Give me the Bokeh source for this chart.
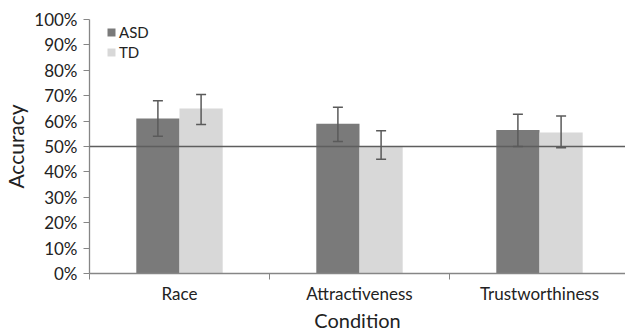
from bokeh.plotting import figure
from bokeh.models import (ColumnDataSource, Whisker, Span, FixedTicker, NumeralTickFormatter,
                          Range1d, Legend, LegendItem, TeeHead)
from bokeh.embed import file_html
from bokeh.resources import INLINE

categories = ["Race", "Attractiveness", "Trustworthiness"]
groups = ["ASD", "TD"]
asd_mean = [0.61, 0.59, 0.565]
asd_lower = [0.54, 0.52, 0.50]
asd_upper = [0.68, 0.655, 0.627]
td_mean = [0.65, 0.50, 0.555]
td_lower = [0.587, 0.45, 0.495]
td_upper = [0.705, 0.562, 0.62]
y_ticks = [0, 0.1, 0.2, 0.3, 0.4, 0.5, 0.6, 0.7, 0.8, 0.9, 1.0]
chance_level = 0.5

colors = {"ASD": "#7a7a7a", "TD": "#d8d8d8"}
err_color = "#5a5a5a"
FONT = "Lato"

centers = [i + 0.5 for i in range(len(categories))]
bw = 0.24

p = figure(frame_width=536, frame_height=254, output_backend="svg", toolbar_location=None,
           x_range=Range1d(0, 536 / 180), y_range=Range1d(0, 1),
           min_border_left=87, min_border_right=0, min_border_top=19, min_border_bottom=52)
p.outline_line_color = None
p.grid.grid_line_color = None

src_asd = ColumnDataSource(dict(x=[c - bw / 2 for c in centers], top=asd_mean,
                                lo=asd_lower, hi=asd_upper))
src_td = ColumnDataSource(dict(x=[c + bw / 2 for c in centers], top=td_mean,
                               lo=td_lower, hi=td_upper))

r_asd = p.vbar(x="x", top="top", width=bw, source=src_asd, fill_color=colors["ASD"], line_color=None)
r_td = p.vbar(x="x", top="top", width=bw, source=src_td, fill_color=colors["TD"], line_color=None)

p.add_layout(Span(location=chance_level, dimension="width", line_color="#5e5e5e", line_width=1.3,
                  level="annotation"))

for src in (src_asd, src_td):
    w = Whisker(source=src, base="x", lower="lo", upper="hi", line_color=err_color, line_width=1.5,
                level="overlay",
                upper_head=TeeHead(size=10, line_color=err_color, line_width=1.5),
                lower_head=TeeHead(size=10, line_color=err_color, line_width=1.5))
    p.add_layout(w)

# axes
xa = p.xaxis[0]
xa.ticker = FixedTicker(ticks=centers, minor_ticks=[0, 1, 2, 3])
xa.major_label_overrides = {c: n for c, n in zip(centers, categories)}
xa.major_tick_line_color = None
xa.major_tick_out = 6
xa.major_tick_in = 0
xa.minor_tick_out = 6
xa.minor_tick_in = 0
xa.minor_tick_line_color = "#868686"
xa.axis_line_color = "#868686"
xa.axis_line_width = 1.3
xa.major_label_text_font = FONT
xa.major_label_text_font_size = "17px"
xa.major_label_text_color = "#222222"
xa.major_label_standoff = 3
xa.axis_label = "Condition"
xa.axis_label_text_font = FONT
xa.axis_label_text_font_size = "20px"
xa.axis_label_text_font_style = "normal"
xa.axis_label_text_color = "#222222"
xa.axis_label_standoff = 1

ya = p.yaxis[0]
ya.ticker = FixedTicker(ticks=y_ticks)
ya.formatter = NumeralTickFormatter(format="0%")
ya.minor_tick_line_color = None
ya.major_tick_out = 6
ya.major_tick_in = 0
ya.major_tick_line_color = "#868686"
ya.axis_line_color = "#868686"
ya.axis_line_width = 1.3
ya.major_label_text_font = FONT
ya.major_label_text_font_size = "17px"
ya.major_label_text_color = "#222222"
ya.major_label_standoff = 6
ya.axis_label = "Accuracy"
ya.axis_label_text_font = FONT
ya.axis_label_text_font_size = "21px"
ya.axis_label_text_font_style = "normal"
ya.axis_label_text_color = "#222222"
ya.axis_label_standoff = 3

legend = Legend(items=[LegendItem(label=groups[0], renderers=[r_asd]),
                       LegendItem(label=groups[1], renderers=[r_td])],
                location=(17, 212), margin=0, padding=0, spacing=2,
                glyph_width=10, glyph_height=10, label_standoff=3,
                label_text_font=FONT, label_text_font_size="15px", label_text_color="#222222",
                border_line_color=None, background_fill_alpha=0)
p.add_layout(legend)

open("out.html", "w").write(file_html(p, INLINE))
